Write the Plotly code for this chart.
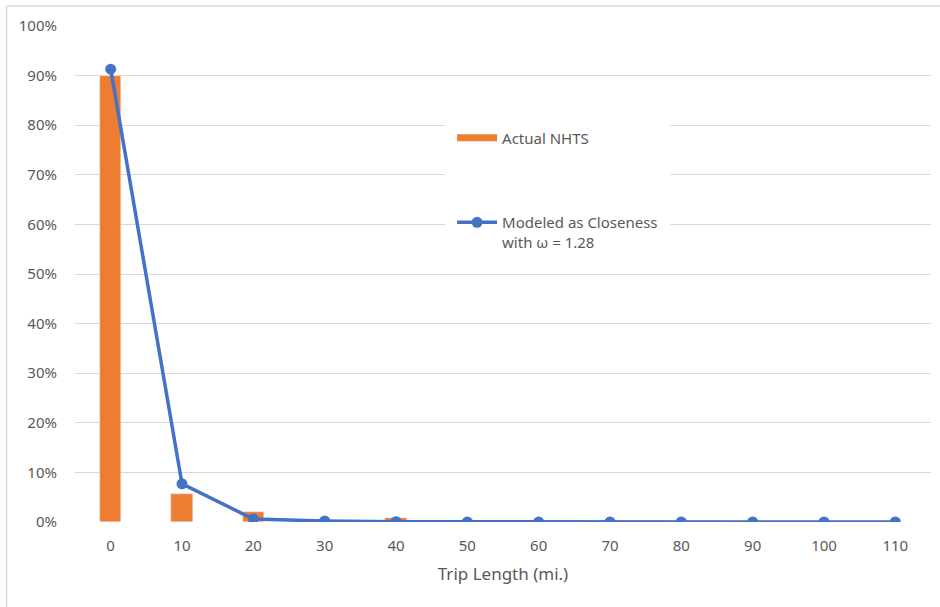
import plotly.graph_objects as go

trip_length = [0, 10, 20, 30, 40, 50, 60, 70, 80, 90, 100, 110]
actual_nhts = [0.900, 0.056, 0.021, 0.003, 0.008, 0.0, 0.0, 0.0, 0.0, 0.0, 0.0, 0.0]
modeled = [0.913, 0.077, 0.006, 0.002, 0.0005, 0.0002, 0.0001, 0.0, 0.0, 0.0, 0.0, 0.0]
y_ticks = [0, 0.1, 0.2, 0.3, 0.4, 0.5, 0.6, 0.7, 0.8, 0.9, 1.0]
y_labels = ["0%", "10%", "20%", "30%", "40%", "50%", "60%", "70%", "80%", "90%", "100%"]

ORANGE = "#ED7D31"
BLUE = "#4472C4"
GREY = "#595959"
FONT = "Noto Sans"

fig = go.Figure()
fig.add_trace(go.Bar(x=trip_length, y=actual_nhts, width=3.0, marker_color=ORANGE,
                     showlegend=False, name="Actual NHTS"))
# legend-only swatch for bars (wide rectangle like the reference)
fig.add_trace(go.Scatter(x=[None], y=[None], mode="lines", line=dict(color=ORANGE, width=7),
                         name="Actual NHTS", legend="legend"))
fig.add_trace(go.Scatter(x=trip_length, y=modeled, mode="lines+markers",
                         line=dict(color=BLUE, width=3.5), marker=dict(size=11, color=BLUE),
                         name="Modeled as Closeness<br>with ω = 1.28", legend="legend2"))

fig.update_layout(
    width=940, height=607,
    margin=dict(l=75.4, r=9.4, t=26, b=85, autoexpand=False),
    plot_bgcolor="white", paper_bgcolor="white",
    font=dict(family=FONT, size=14, color=GREY),
    xaxis=dict(range=[-5, 115], tickvals=trip_length, ticktext=[str(v) for v in trip_length],
               showgrid=False, zeroline=False, showline=False, automargin=False,
               ticks="outside", ticklen=10, tickcolor="rgba(0,0,0,0)",
               tickfont=dict(size=15, color=GREY),
               title=dict(text="Trip Length (mi.)", font=dict(size=17, color=GREY), standoff=14)),
    yaxis=dict(range=[0, 1.0], tickvals=y_ticks, ticktext=y_labels, showgrid=True,
               gridcolor="#D9D9D9", gridwidth=1, zeroline=False, showline=False, automargin=False,
               ticks="outside", ticklen=14, tickcolor="rgba(0,0,0,0)",
               tickfont=dict(size=15, color=GREY)),
    legend=dict(x=0.4405, y=0.774, xanchor="left", yanchor="middle", bgcolor="rgba(0,0,0,0)",
                itemwidth=40, font=dict(size=15, color=GREY)),
    legend2=dict(x=0.4405, y=0.637, xanchor="left", yanchor="top", bgcolor="rgba(0,0,0,0)",
                 itemwidth=40, valign="top", font=dict(size=15, color=GREY)),
    bargap=0,
    shapes=[
        dict(type="rect", xref="paper", yref="paper", x0=0.4322, x1=0.6953, y0=0.516, y1=0.8246,
             fillcolor="white", line=dict(width=0), layer="above"),
        dict(type="line", xref="paper", yref="paper", x0=-0.080, x1=1.2, y0=1.0403, y1=1.0403,
             line=dict(color="#D9D9D9", width=1.5)),
        dict(type="line", xref="paper", yref="paper", x0=-0.080, x1=-0.080, y0=-0.3, y1=1.0403,
             line=dict(color="#D9D9D9", width=1.5)),
    ],
)

fig.write_html("out.html", config={"displayModeBar": False},
               post_script="document.body.style.margin='0px';")
